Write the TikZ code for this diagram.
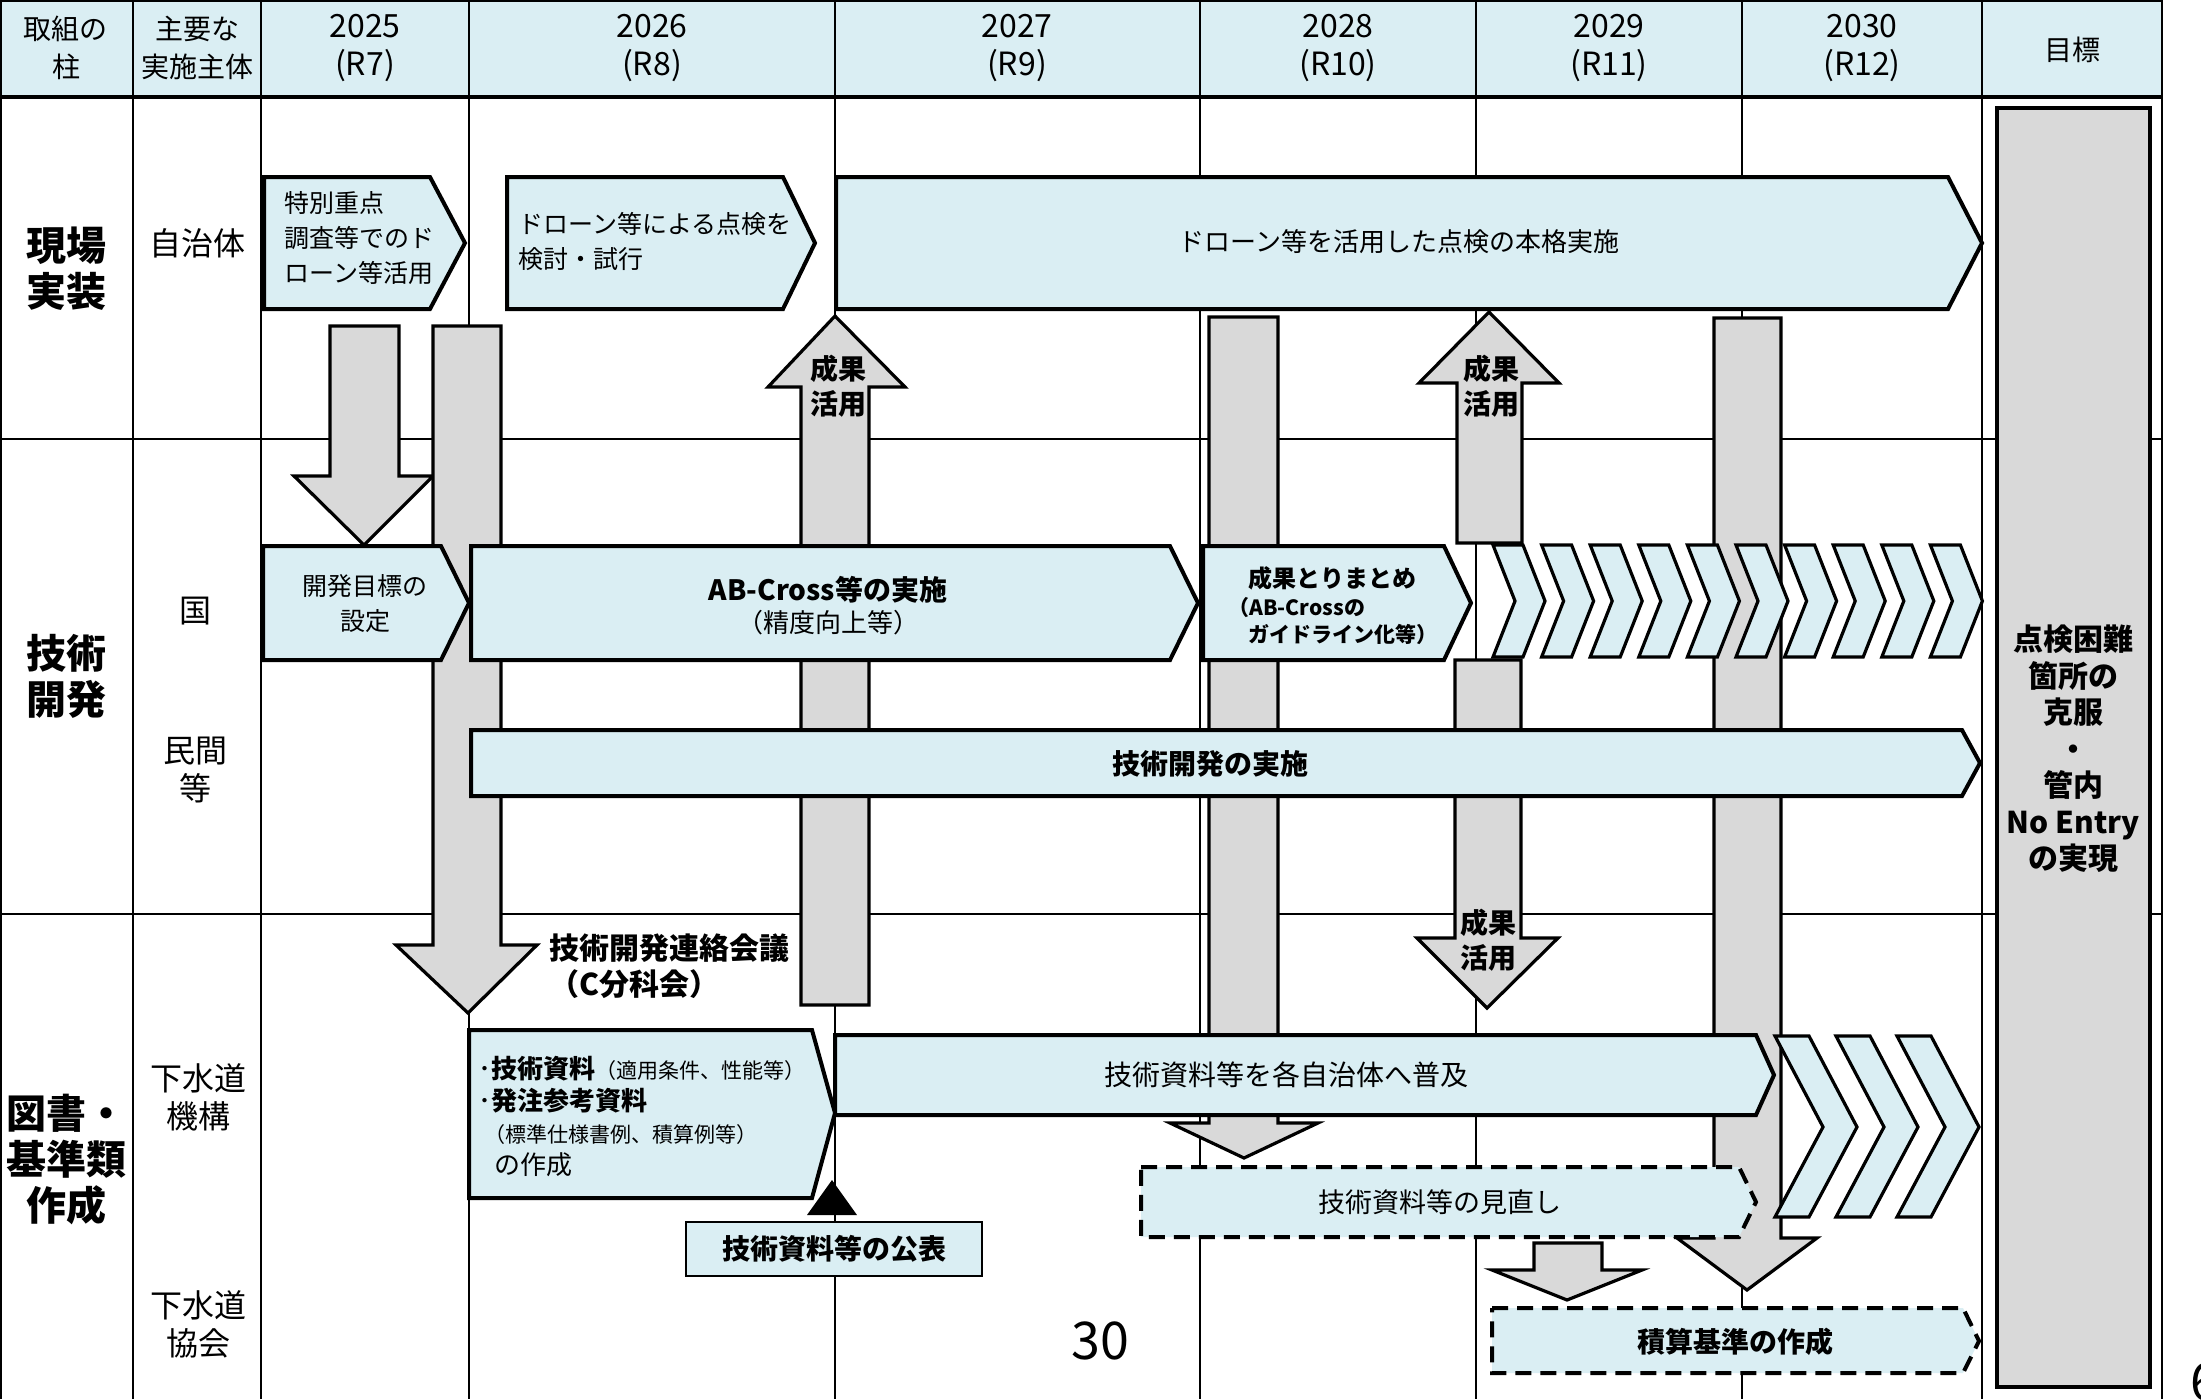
\documentclass[tikz,border=0pt]{standalone}
\usepackage{fontspec}
\setmainfont{Noto Sans CJK JP}
\usepackage{xcolor}
\usepackage{tikz}
\usetikzlibrary{positioning}
\definecolor{hdblue}{HTML}{DAEEF3}
\definecolor{bargray}{HTML}{D9D9D9}

\begin{document}
\begin{tikzpicture}[x=0.5pt,y=-0.5pt,
  gridline/.style={line width=1pt},
  box/.style={draw,line width=2pt,fill=hdblue,line join=miter},
  dbox/.style={box,dash pattern=on 8pt off 4.5pt},
  gbar/.style={draw,line width=1.6pt,fill=bargray,line join=miter},
  chev/.style={draw,line width=1.6pt,fill=hdblue,line join=miter},
  hd/.style={font=\fontsize{14}{19}\selectfont,align=center},
  yr/.style={font=\fontsize{16}{19}\selectfont,align=center},
  pillar/.style={font=\fontsize{20}{23}\selectfont\bfseries,align=center},
  actor/.style={font=\fontsize{16}{19}\selectfont,align=center},
  txt/.style={font=\fontsize{12.5}{17.5}\selectfont},
  btxt/.style={font=\fontsize{14}{17.5}\selectfont\bfseries},
  useful/.style={font=\fontsize{14}{17.5}\selectfont\bfseries,align=center}]
\useasboundingbox (0,0) rectangle (2201,1399);
\fill[white] (0,0) rectangle (2201,1399);
\fill[hdblue] (0,0) rectangle (2162,97);
\foreach \gx in {1,133,261,469,835,1200,1476,1742,1982,2162}
  \draw[gridline] (\gx,0) -- (\gx,1399);
\draw[gridline] (0,1) -- (2162,1);
\draw[gridline] (0,439) -- (2162,439);
\draw[gridline] (0,914) -- (2162,914);
\draw[line width=1.6pt] (0,97) -- (2162,97);

\node[hd] (h0) at (66,48) {取組の\\柱};
\node[hd] (h1) at (197,48) {主要な\\実施主体};
\node[yr] (h2) at (365,48) {2025\\(R7)};
\node[yr] (h3) at (652,48) {2026\\(R8)};
\node[yr] (h4) at (1017,48) {2027\\(R9)};
\node[yr] (h5) at (1338,48) {2028\\(R10)};
\node[yr] (h6) at (1609,48) {2029\\(R11)};
\node[yr] (h7) at (1862,48) {2030\\(R12)};
\node[hd] (h8) at (2072,50) {目標};

\node[pillar] (p1) at (66,269) {現場\\実装};
\node[pillar] (p2) at (66,676) {技術\\開発};
\node[pillar] (p3) at (66,1159) {図書・\\基準類\\作成};
\node[actor] (a1) at (197,243) {自治体};
\node[actor] (a2) at (195,611) {国};
\node[actor] (a3) at (195,770) {民間\\等};
\node[actor] (a4) at (198,1097) {下水道\\機構};
\node[actor] (a5) at (198,1324) {下水道\\協会};

\draw[gbar] (330,326) -- (399,326) -- (399,476) -- (433,476) -- (364,545) -- (294,476) -- (330,476) -- cycle;
\draw[gbar] (433,326) -- (501,326) -- (501,945) -- (537,945) -- (468,1013) -- (396,945) -- (433,945) -- cycle;
\draw[gbar] (801,1005) -- (869,1005) -- (869,387) -- (905,387) -- (835,316) -- (768,387) -- (801,387) -- cycle;
\draw[gbar] (1209,317) -- (1278,317) -- (1278,1123) -- (1318,1123) -- (1244,1158) -- (1170,1123) -- (1209,1123) -- cycle;
\draw[gbar] (1457,543) -- (1522,543) -- (1522,383) -- (1559,383) -- (1489,312) -- (1419,383) -- (1457,383) -- cycle;
\draw[gbar] (1455,660) -- (1521,660) -- (1521,938) -- (1558,938) -- (1487,1008) -- (1417,938) -- (1455,938) -- cycle;
\draw[gbar] (1714,318) -- (1781,318) -- (1781,1238) -- (1817,1238) -- (1747,1290) -- (1677,1238) -- (1714,1238) -- cycle;
\draw[gbar] (1534,1243) -- (1602,1243) -- (1602,1270) -- (1642,1270) -- (1567,1300) -- (1492,1270) -- (1534,1270) -- cycle;
\draw[gbar,line width=2.2pt] (1997,108) rectangle (2150,1387);

\draw[box] (264,177) -- (430,177) -- (465,243) -- (430,309) -- (264,309) -- cycle;
\draw[box] (507,177) -- (783,177) -- (815,243) -- (783,309) -- (507,309) -- cycle;
\draw[box] (836,177) -- (1948,177) -- (1982,243) -- (1948,309) -- (836,309) -- cycle;
\draw[box] (263,546) -- (441,546) -- (469,603) -- (441,660) -- (263,660) -- cycle;
\draw[box] (471,546) -- (1170,546) -- (1198,603) -- (1170,660) -- (471,660) -- cycle;
\draw[box] (1203,546) -- (1444,546) -- (1471,603) -- (1444,660) -- (1203,660) -- cycle;
\foreach \k in {0,...,9}
  \draw[chev] ({1493+48.6*\k},545) -- ++(30,0) -- ++(22,56) -- ++(-22,56) -- ++(-30,0) -- ++(22,-56) -- cycle;
\draw[box] (471,730) -- (1962,730) -- (1980,763) -- (1962,796) -- (471,796) -- cycle;
\draw[box] (469,1030) -- (812,1030) -- (835,1113) -- (812,1198) -- (469,1198) -- cycle;
\draw[box] (835,1035) -- (1756,1035) -- (1774,1075) -- (1756,1115) -- (835,1115) -- cycle;
\foreach \cx in {1775,1836,1897}
  \draw[chev] (\cx,1036) -- ++(34,0) -- ++(48,91) -- ++(-48,90) -- ++(-34,0) -- ++(48,-90) -- cycle;
\draw[dbox] (1141,1167) -- (1739,1167) -- (1756,1202) -- (1739,1237) -- (1141,1237) -- cycle;
\draw[dbox] (1492,1308) -- (1963,1308) -- (1979,1341) -- (1963,1373) -- (1492,1373) -- cycle;
\draw[line width=1.2pt,fill=hdblue] (686,1222) rectangle (982,1276);
\fill[black] (832,1180) -- (857,1215) -- (807,1215) -- cycle;

\node[txt,align=left,anchor=north west,inner sep=0] (t1) at (284,191) {特別重点\\調査等でのド\\ローン等活用};
\node[txt,align=left,anchor=north west,inner sep=0] (t2) at (518,212) {ドローン等による点検を\\検討・試行};
\node[font=\fontsize{13}{17.5}\selectfont] (t3) at (1399,242) {ドローン等を活用した点検の本格実施};
\node[txt,align=center] (t4) at (365,604) {開発目標の\\設定};
\node[align=center,font=\fontsize{13}{16}\selectfont] (t5) at (828,606) {{\fontsize{14}{16}\selectfont\bfseries AB-Cross等の実施}\\（精度向上等）};
\node[font=\fontsize{12}{14}\selectfont\bfseries] (t6) at (1332,578) {成果とりまとめ};
\node[font=\fontsize{10.5}{13.5}\selectfont\bfseries,align=left,anchor=north west,inner sep=0] (t6b) at (1228,597) {（AB-Crossの\\\hspace{10pt}ガイドライン化等）};
\node[btxt] (t7) at (1210,764) {技術開発の実施};
\node[font=\fontsize{13}{16}\selectfont,align=left,anchor=north west,inner sep=0] (t8) at (478,1056)
  {･\textbf{技術資料}{\fontsize{10.5}{16}\selectfont（適用条件、性能等）}\\･\textbf{発注参考資料}\\{\fontsize{10.5}{16}\selectfont\hspace{3pt}（標準仕様書例、積算例等）}\\\hspace{8pt}の作成};
\node[font=\fontsize{14}{17}\selectfont] (t9) at (1286,1075) {技術資料等を各自治体へ普及};
\node[font=\fontsize{13.5}{16}\selectfont] (t10) at (1440,1202) {技術資料等の見直し};
\node[btxt] (t11) at (1735,1342) {積算基準の作成};
\node[btxt] (t12) at (834,1249) {技術資料等の公表};
\node[font=\fontsize{15}{18}\selectfont\bfseries,align=left,anchor=north west,inner sep=0] (cm) at (549,933) {技術開発連絡会議\\（C分科会）};
\node[useful] (u1) at (838,386) {成果\\活用};
\node[useful] (u2) at (1491,386) {成果\\活用};
\node[useful] (u3) at (1488,940) {成果\\活用};
\node[font=\fontsize{15}{18.25}\selectfont\bfseries,align=center] (goal) at (2073,749) {点検困難\\箇所の\\克服\\・\\管内\\No Entry\\の実現};
\node[font=\fontsize{26}{30}\selectfont] (pg) at (1100,1341) {30};
\node[font=\fontsize{26}{30}\selectfont,anchor=west,inner sep=0] (pg2) at (2190,1382) {6};
\end{tikzpicture}
\end{document}
